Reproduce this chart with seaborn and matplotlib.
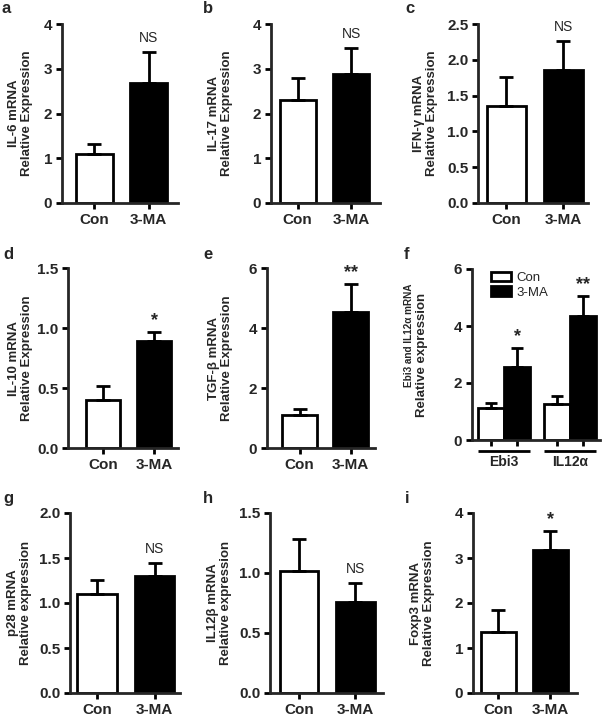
import numpy as np
import pandas as pd
import matplotlib
matplotlib.use("Agg")
import matplotlib.pyplot as plt
import matplotlib.transforms as mtrans
from matplotlib.ticker import FormatStrFormatter
import seaborn as sns

sns.set_style("ticks")
plt.rcParams['font.family'] = ['Liberation Sans', 'DejaVu Sans']
plt.rcParams['font.weight'] = 'bold'
plt.rcParams['axes.labelweight'] = 'bold'

# ---- data (mean, upper SEM) ----
groups = ['Con', '3-MA']

il6_mean = [1.10, 2.68]
il6_err = [0.22, 0.69]
il17_mean = [2.30, 2.88]
il17_err = [0.50, 0.58]
ifng_mean = [1.36, 1.86]
ifng_err = [0.40, 0.40]
il10_mean = [0.40, 0.89]
il10_err = [0.12, 0.08]
tgfb_mean = [1.10, 4.52]
tgfb_err = [0.20, 0.96]
p28_mean = [1.10, 1.30]
p28_err = [0.16, 0.15]
il12b_mean = [1.02, 0.76]
il12b_err = [0.26, 0.16]
foxp3_mean = [1.35, 3.17]
foxp3_err = [0.50, 0.43]

f_genes = ['Ebi3', 'IL12α']
f_con_mean = [1.14, 1.27]
f_con_err = [0.17, 0.28]
f_ma_mean = [2.55, 4.34]
f_ma_err = [0.67, 0.72]
f_marks = ['*', '**']

W, H = 607, 718
fig = plt.figure(figsize=(W / 100, H / 100), dpi=100)
fig.patch.set_facecolor('white')


def px_axes(l, t, r, b):
    return fig.add_axes([l / W, 1 - b / H, (r - l) / W, (b - t) / H])


def style_axis(ax, ymax, step, fmt, lab_off, ylab):
    ax.set_ylim(0, ymax)
    ax.set_yticks(np.arange(0, ymax + step / 2, step))
    ax.yaxis.set_major_formatter(FormatStrFormatter(fmt))
    sns.despine(ax=ax)
    ax.spines['left'].set_linewidth(2)
    ax.spines['bottom'].set_linewidth(2)
    ax.tick_params(axis='both', width=2, length=4, labelsize=11, pad=3, color='black')
    ax.set_xlabel('')
    if ylab:
        ax.set_ylabel(ylab, fontsize=9.5, linespacing=1.1)
        w_px = ax.get_position().width * W
        ax.yaxis.set_label_coords(-lab_off / w_px, 0.5)


def mark(ax, x, y, txt):
    if txt == 'NS':
        ax.annotate(txt, (x, y), xytext=(0, 5), textcoords='offset points',
                    ha='center', va='bottom', fontsize=10, fontweight='normal',
                    family=['Liberation Sans Narrow', 'Liberation Sans'])
    else:
        ax.annotate(txt, (x, y), xytext=(0, 2), textcoords='offset points',
                    ha='center', va='bottom', fontsize=13, fontweight='bold')


# layout: rect in px (left, top, right, bottom), xlim, y range, ylabel offset
panels = [
    ('a', (62, 24, 178, 203), (-0.59, 1.54), 4, 1, '%g', 29,
     'IL-6 mRNA\nRelative Expression', il6_mean, il6_err, 'NS'),
    ('b', (271, 24, 380, 203), (-0.50, 1.54), 4, 1, '%g', 38,
     'IL-17 mRNA\nRelative Expression', il17_mean, il17_err, 'NS'),
    ('c', (478, 24, 588, 203), (-0.50, 1.43), 2.5, 0.5, '%.1f', 40,
     'IFN-γ mRNA\nRelative Expression', ifng_mean, ifng_err, 'NS'),
    ('d', (68, 268, 178, 448), (-0.69, 1.47), 1.5, 0.5, '%.1f', 35,
     'IL-10 mRNA\nRelative Expression', il10_mean, il10_err, '*'),
    ('e', (267, 268, 375, 448), (-0.64, 1.48), 6, 2, '%g', 34,
     'TGF-β mRNA\nRelative Expression', tgfb_mean, tgfb_err, '**'),
    ('g', (70, 513, 180, 693), (-0.47, 1.44), 2.0, 0.5, '%.1f', 38,
     'p28 mRNA\nRelative expression', p28_mean, p28_err, 'NS'),
    ('h', (270, 513, 383, 693), (-0.51, 1.49), 1.5, 0.5, '%.1f', 38,
     'IL12β mRNA\nRelative expression', il12b_mean, il12b_err, 'NS'),
    ('i', (473, 513, 577, 693), (-0.49, 1.51), 4, 1, '%g', 38,
     'Foxp3 mRNA\nRelative Expression', foxp3_mean, foxp3_err, '*'),
]

for key, rect, xl, ymax, step, fmt, off, ylab, mean, err, sig in panels:
    ax = px_axes(*rect)
    sns.barplot(x=groups, y=mean, hue=groups, palette=['white', 'black'],
                edgecolor='black', linewidth=2, width=0.68, errorbar=None,
                legend=False, ax=ax)
    ax.errorbar(x=[0, 1], y=mean, yerr=[[0, 0], err], fmt='none', ecolor='black',
                elinewidth=2, capsize=5, capthick=2)
    ax.set_xlim(*xl)
    style_axis(ax, ymax, step, fmt, off, ylab)
    mark(ax, 1, mean[1] + err[1], sig)

# panel f: grouped bars
df_f = pd.DataFrame({
    'gene': f_genes + f_genes,
    'group': ['Con'] * 2 + ['3-MA'] * 2,
    'value': f_con_mean + f_ma_mean,
})
axf = px_axes(472, 269, 600, 440)
sns.barplot(data=df_f, x='gene', y='value', hue='group', hue_order=groups,
            palette=['white', 'black'], edgecolor='black', linewidth=2,
            width=0.8, errorbar=None, legend=False, ax=axf)
con_bars, ma_bars = axf.containers[0], axf.containers[1]
centers = []
for bars, m, e in [(con_bars, f_con_mean, f_con_err), (ma_bars, f_ma_mean, f_ma_err)]:
    xs = [b.get_x() + b.get_width() / 2 for b in bars]
    centers += xs
    axf.errorbar(x=xs, y=m, yerr=[[0, 0], e], fmt='none', ecolor='black',
                 elinewidth=2, capsize=4, capthick=2)
ma_x = [b.get_x() + b.get_width() / 2 for b in ma_bars]
for x, m, e, s in zip(ma_x, f_ma_mean, f_ma_err, f_marks):
    mark(axf, x, m + e, s)
axf.set_xlim(-0.49, 1.46)
style_axis(axf, 6, 2, '%g', 44, 'Relative expression')
axf.set_xticks(sorted(centers))
axf.set_xticklabels([''] * len(centers))
axf.text(-0.496, 0.614, 'Ebi3 and IL12α mRNA', transform=axf.transAxes, rotation=90,
         ha='center', va='center', fontsize=7.2, fontweight='bold')
trans = mtrans.blended_transform_factory(axf.transData, axf.transAxes)
for j, gene in enumerate(f_genes):
    x0 = con_bars[j].get_x()
    x1 = ma_bars[j].get_x() + ma_bars[j].get_width()
    axf.plot([x0, x1], [-0.064, -0.064], color='black', lw=2, transform=trans,
             clip_on=False, solid_capstyle='butt')
    axf.text(j, -0.128, gene, transform=trans, ha='center', va='center',
             fontsize=10, fontweight='bold')
axf.legend(handles=[con_bars, ma_bars], labels=groups, frameon=False,
           loc='upper left', bbox_to_anchor=(0.10, 1.02), borderpad=0,
           handlelength=1.45, handleheight=0.7, labelspacing=0.15,
           handletextpad=0.45, prop={'size': 9.5, 'weight': 'normal'})

# panel letters
letters = [('a', 2, 1), ('b', 203, 1), ('c', 405, 1),
           ('d', 3, 247), ('e', 203, 247), ('f', 404, 247),
           ('g', 3, 491), ('h', 203, 491), ('i', 405, 491)]
for txt, x, y in letters:
    fig.text(x / W, 1 - y / H, txt, ha='left', va='top', fontsize=12, fontweight='bold')

fig.savefig('out.png', dpi=100, facecolor='white')
